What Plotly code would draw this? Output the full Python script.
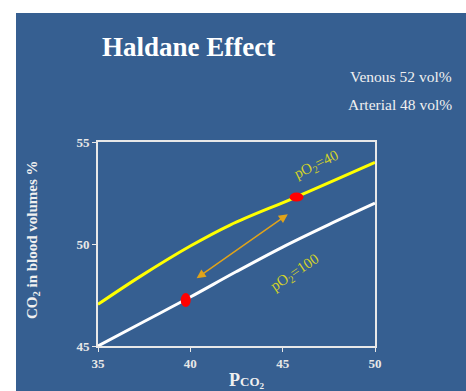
import plotly.graph_objects as go

# Data
pco2_low_o2 = [35, 37.27, 40, 42.15, 45.7, 50]
co2_low_o2 = [47.04, 48.4, 49.9, 50.93, 52.29, 54.0]   # pO2=40 (venous)
pco2_high_o2 = [35, 37.5, 40, 42.5, 45, 47.5, 50]
co2_high_o2 = [45.0, 46.2, 47.4, 48.65, 49.85, 50.95, 52.0]  # pO2=100 (arterial)
dot_x = [39.75, 45.75]
dot_y = [47.25, 52.3]
arrow_start = (45.36, 51.51)
arrow_end = (40.34, 48.32)
x_ticks = [35, 40, 45, 50]
y_ticks = [45, 50, 55]

BLUE = "#365f91"
SERIF = "Liberation Serif, Times New Roman, serif"
LABEL = "#d2d22a"

fig = go.Figure()
fig.add_trace(go.Scatter(x=pco2_high_o2, y=co2_high_o2, mode="lines",
                         line=dict(color="white", width=3, shape="spline", smoothing=1.0),
                         showlegend=False, hoverinfo="skip"))
fig.add_trace(go.Scatter(x=pco2_low_o2, y=co2_low_o2, mode="lines",
                         line=dict(color="#ffff00", width=3, shape="spline"),
                         showlegend=False, hoverinfo="skip"))

# red dots as ellipses anchored at data positions
sizes = [(10, 14), (14, 9)]
for (dx, dy), (w, h) in zip(zip(dot_x, dot_y), sizes):
    fig.add_shape(type="circle", xref="x", yref="y",
                  xsizemode="pixel", ysizemode="pixel",
                  xanchor=dx, yanchor=dy,
                  x0=-w / 2, x1=w / 2, y0=-h / 2, y1=h / 2,
                  fillcolor="#ff0000", line=dict(width=0), layer="above")

# double-headed arrow
fig.add_annotation(x=arrow_end[0], y=arrow_end[1], ax=arrow_start[0], ay=arrow_start[1],
                   xref="x", yref="y", axref="x", ayref="y", text="",
                   showarrow=True, arrowhead=2, startarrowhead=2, arrowside="end+start",
                   arrowsize=1.2, startarrowsize=1.2, arrowwidth=1.5, arrowcolor="#e0a31a")

fig.add_annotation(x=46.84, y=53.87, xref="x", yref="y", text="pO<sub>2</sub>=40",
                   showarrow=False, textangle=-26,
                   font=dict(family=SERIF, size=15, color=LABEL))
fig.add_annotation(x=45.67, y=48.56, xref="x", yref="y", text="pO<sub>2</sub>=100",
                   showarrow=False, textangle=-34,
                   font=dict(family=SERIF, size=15, color=LABEL))

# Title and side texts (paper coords relative to plot area)
W, H = 466, 391
ml, mr, mt, mb = 98, 91, 142, 45
pw, ph = W - ml - mr, H - mt - mb

def px(xp):
    return (xp - ml) / pw

def py(yp):
    return (H - mb - yp) / ph

fig.add_annotation(x=px(188), y=py(47), xref="paper", yref="paper",
                   text="<b>Haldane Effect</b>", showarrow=False,
                   xanchor="center", yanchor="middle",
                   font=dict(family=SERIF, size=27, color="white"))
fig.add_annotation(x=px(454), y=py(76), xref="paper", yref="paper",
                   text="Venous 52 vol%", showarrow=False,
                   xanchor="right", yanchor="middle",
                   font=dict(family=SERIF, size=15.5, color="#f0f0f0"))
fig.add_annotation(x=px(454), y=py(104), xref="paper", yref="paper",
                   text="Arterial 48 vol%", showarrow=False,
                   xanchor="right", yanchor="middle",
                   font=dict(family=SERIF, size=15.5, color="#f0f0f0"))
fig.add_annotation(x=px(33), y=py(240), xref="paper", yref="paper",
                   text="<b>CO<sub>2</sub> in blood volumes %</b>", showarrow=False,
                   textangle=-90, xanchor="center", yanchor="middle",
                   font=dict(family=SERIF, size=15, color="#f0f0f0"))
fig.add_annotation(x=px(247), y=py(380), xref="paper", yref="paper",
                   text="<b>P<span style='font-size:13px'>CO<sub>2</sub></span></b>",
                   showarrow=False, xanchor="center", yanchor="middle",
                   font=dict(family=SERIF, size=18, color="#f0f0f0"))

# white strips at top and left
fig.add_shape(type="rect", xref="paper", yref="paper",
              x0=px(0), x1=px(W), y0=py(0), y1=py(13),
              fillcolor="white", line=dict(width=0), layer="below")
fig.add_shape(type="rect", xref="paper", yref="paper",
              x0=px(0), x1=px(16), y0=py(0), y1=py(H),
              fillcolor="white", line=dict(width=0), layer="below")

axis_common = dict(showgrid=False, zeroline=False, showline=True, linecolor="#e8e8e8",
                   linewidth=2, mirror=True, ticks="outside", ticklen=4, tickwidth=1,
                   tickcolor="#e8e8e8",
                   tickfont=dict(family=SERIF, size=13, color="#e8e8e8"))
fig.update_xaxes(range=[35, 50], tickvals=x_ticks, ticktext=[f"<b>{v}</b>" for v in x_ticks],
                 **axis_common)
fig.update_yaxes(range=[45, 55], tickvals=y_ticks, ticktext=[f"<b>{v}</b>" for v in y_ticks],
                 **axis_common)

fig.update_layout(width=W, height=H, margin=dict(l=ml, r=mr, t=mt, b=mb),
                  paper_bgcolor=BLUE, plot_bgcolor=BLUE, showlegend=False)

fig.write_html("out.html")
